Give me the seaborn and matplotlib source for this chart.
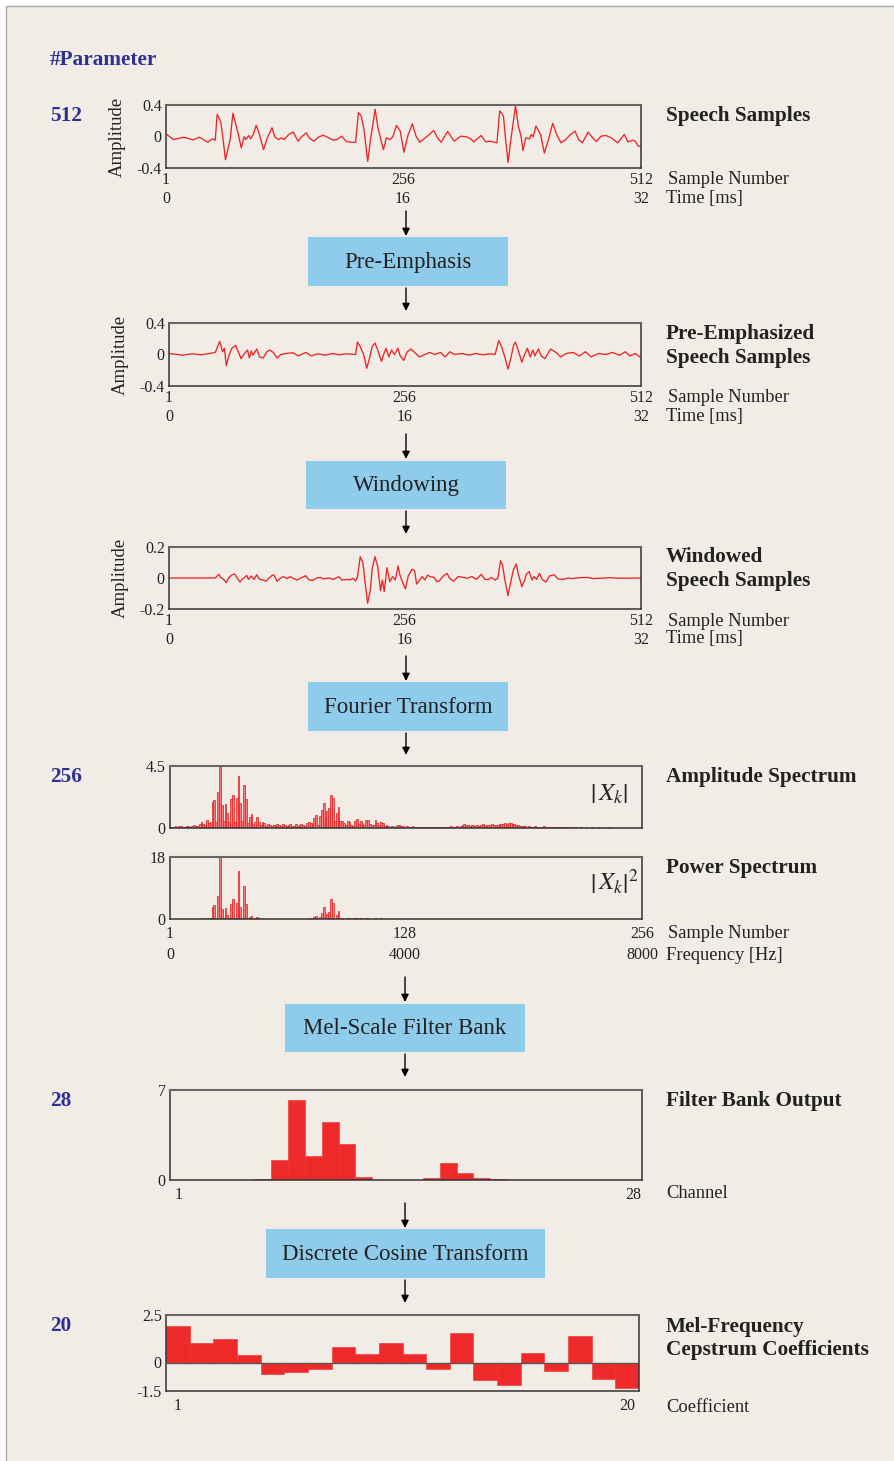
import numpy as np
import pandas as pd
import matplotlib
matplotlib.use("Agg")
import matplotlib.pyplot as plt
from matplotlib.patches import Rectangle, FancyArrowPatch
import seaborn as sns

# ---------------------------------------------------------------- data
# Speech frame (512 samples, 32 ms at 16 kHz)
speech_n = [1, 9, 14, 20, 25, 30, 37, 46, 51, 54, 56, 58, 60, 62, 65, 70, 73, 78, 82, 85,
            87, 90, 92, 95, 98, 101, 106, 110, 115, 118, 122, 125, 128, 133, 138, 143, 147, 152, 155, 160,
            165, 170, 176, 181, 185, 190, 195, 201, 205, 208, 211, 214, 218, 221, 226, 229, 233, 235, 238, 242,
            245, 249, 253, 257, 261, 266, 270, 274, 279, 283, 289, 293, 297, 304, 311, 318, 324, 329, 332, 340,
            345, 350, 357, 360, 362, 364, 366, 369, 372, 377, 380, 383, 385, 388, 392, 394, 396, 399, 404, 408,
            413, 417, 422, 426, 431, 435, 441, 445, 449, 455, 460, 464, 469, 474, 480, 487, 494, 498, 503, 506,
            509, 512]
speech_amp = [0.034, -0.039, -0.026, -0.009, -0.026, -0.043, -0.009, -0.073, -0.030, -0.047,
              0.280, 0.240, 0.175, 0.004, -0.295, -0.039, 0.295, 0.068, -0.146, -0.004,
              -0.039, 0.013, -0.030, 0.026, 0.141, 0.047, -0.167, -0.017, 0.111, -0.004,
              -0.039, -0.017, -0.039, 0.026, 0.056, -0.060, -0.004, 0.047, -0.017, -0.060,
              -0.009, 0.017, -0.017, -0.047, -0.039, 0.004, -0.064, -0.073, -0.073, 0.304,
              0.260, 0.090, -0.317, -0.039, 0.347, 0.111, -0.081, -0.167, -0.017, -0.039,
              -0.004, 0.141, 0.068, -0.200, 0.004, 0.163, 0.004, -0.073, -0.026, 0.013,
              0.077, -0.017, -0.073, 0.064, -0.060, 0.004, -0.004, -0.030, -0.068, 0.013,
              -0.068, -0.060, -0.081, 0.325, 0.295, 0.260, 0.004, -0.330, -0.039, 0.390,
              0.133, 0.004, -0.180, -0.017, -0.030, 0.026, -0.004, 0.133, 0.026, -0.210,
              -0.017, 0.167, 0.004, -0.081, -0.039, 0.013, 0.068, -0.039, -0.081, 0.056,
              -0.017, -0.064, 0.004, 0.013, -0.017, -0.081, 0.026, -0.068, -0.047, -0.060,
              -0.124, -0.120]

# Pre-emphasized frame
pre_n = [1, 16, 26, 36, 43, 51, 56, 59, 61, 63, 66, 69, 73, 76, 79, 82, 86, 88, 90, 92,
         96, 99, 103, 107, 110, 114, 118, 122, 128, 135, 141, 149, 155, 162, 170, 178, 185, 193, 203, 205,
         208, 212, 215, 218, 221, 224, 227, 231, 233, 236, 239, 242, 245, 249, 251, 255, 259, 263, 267, 272,
         278, 283, 289, 295, 300, 305, 310, 318, 326, 333, 341, 349, 354, 358, 361, 364, 368, 371, 374, 376,
         379, 383, 386, 389, 392, 395, 397, 401, 404, 408, 414, 420, 425, 431, 439, 445, 452, 458, 466, 474,
         481, 489, 495, 500, 506, 512]
pre_amp = [0.013, -0.009, 0.009, -0.004, 0.009, 0.026, 0.167, 0.035, 0.079, -0.141,
           -0.009, 0.079, 0.114, 0.035, -0.053, 0.000, 0.057, -0.044, 0.044, -0.009,
           0.070, -0.031, -0.044, 0.035, 0.057, 0.026, -0.044, 0.000, 0.013, 0.022,
           -0.018, 0.026, -0.018, 0.009, -0.009, 0.013, -0.004, 0.009, 0.000, 0.158,
           0.101, -0.009, -0.176, -0.053, 0.101, 0.145, 0.057, -0.088, -0.009, 0.079,
           -0.031, 0.057, 0.000, 0.079, -0.009, -0.075, 0.035, 0.070, 0.026, -0.031,
           0.000, 0.026, 0.000, 0.026, -0.031, 0.035, 0.000, 0.013, -0.009, 0.013,
           -0.004, 0.009, 0.000, 0.176, 0.101, -0.009, -0.185, -0.053, 0.114, 0.158,
           0.057, -0.097, 0.000, 0.079, -0.031, 0.057, -0.018, 0.070, -0.018, -0.053,
           0.070, 0.026, -0.031, 0.013, 0.026, -0.018, 0.035, -0.031, 0.013, 0.000,
           0.026, -0.009, 0.035, -0.018, 0.013, -0.044]

# Hamming-windowed frame
win_n = [1, 51, 55, 57, 60, 63, 66, 69, 72, 75, 78, 80, 83, 85, 87, 90, 93, 96, 99, 103,
         106, 109, 113, 115, 118, 122, 125, 129, 132, 136, 140, 143, 149, 152, 156, 161, 165, 168, 174, 179,
         185, 188, 194, 197, 200, 203, 205, 208, 211, 213, 216, 219, 221, 224, 227, 230, 232, 234, 237, 240,
         243, 246, 249, 251, 254, 257, 260, 264, 267, 269, 272, 275, 278, 281, 284, 288, 291, 294, 298, 302,
         305, 309, 314, 320, 323, 329, 334, 339, 343, 347, 350, 354, 357, 360, 362, 365, 368, 371, 374, 377,
         379, 383, 386, 388, 391, 394, 396, 399, 402, 405, 409, 413, 418, 422, 428, 433, 438, 445, 454, 460,
         467, 478, 489, 512]
win_amp = [0.000, 0.000, 0.024, 0.004, -0.009, -0.030, 0.004, 0.019, 0.026, -0.002,
           -0.026, -0.009, 0.004, 0.017, -0.009, 0.013, -0.009, 0.021, -0.009, -0.013,
           -0.021, -0.002, 0.019, 0.017, -0.021, 0.000, 0.009, -0.004, 0.009, -0.004,
           -0.013, -0.002, 0.015, -0.009, -0.017, 0.000, 0.004, -0.006, 0.000, -0.009,
           0.009, -0.013, -0.009, -0.013, -0.002, -0.019, 0.004, 0.138, 0.095, -0.013,
           -0.163, -0.077, 0.062, 0.138, 0.073, -0.082, -0.013, -0.088, 0.067, -0.024,
           0.009, -0.013, 0.077, 0.019, -0.030, -0.071, 0.013, 0.056, 0.047, -0.039,
           -0.017, 0.009, -0.013, 0.019, 0.009, 0.004, -0.024, -0.017, 0.013, 0.030,
           -0.002, -0.021, 0.009, 0.004, -0.002, 0.009, -0.009, 0.024, -0.009, -0.009,
           0.004, -0.013, -0.002, 0.112, 0.084, -0.024, -0.114, -0.024, 0.056, 0.090,
           0.030, -0.056, -0.013, 0.026, 0.041, -0.013, 0.009, -0.009, 0.030, -0.009,
           -0.026, 0.013, 0.021, -0.006, -0.009, 0.000, -0.004, 0.002, 0.004, -0.004,
           -0.002, 0.002, -0.002, 0.000]

# Magnitude spectrum |X_k|, k = 1..256
spec_k = list(range(1, 257))
spec_mag = [0.10, 0.05, 0.10, 0.12, 0.08, 0.15, 0.18, 0.10, 0.08, 0.15, 0.12, 0.08, 0.12, 0.20, 0.15, 0.12,
            0.30, 0.45, 0.30, 0.20, 0.55, 0.35, 0.40, 1.90, 2.05, 0.45, 2.60, 4.45, 1.70, 0.50, 1.75, 1.10,
            0.40, 2.10, 2.40, 0.45, 2.15, 3.75, 1.85, 0.50, 3.10, 2.10, 0.35, 0.80, 1.00, 0.30, 0.40, 0.80,
            0.40, 0.25, 0.45, 0.35, 0.15, 0.30, 0.20, 0.12, 0.20, 0.15, 0.30, 0.25, 0.12, 0.30, 0.25, 0.15,
            0.20, 0.30, 0.18, 0.12, 0.30, 0.15, 0.20, 0.30, 0.25, 0.15, 0.35, 0.45, 0.35, 0.30, 0.70, 0.95,
            0.20, 0.85, 1.30, 1.85, 0.80, 1.20, 1.45, 2.40, 2.15, 0.50, 1.10, 1.55, 0.50, 0.50, 0.35, 0.20,
            0.50, 0.40, 0.20, 0.15, 0.50, 0.65, 0.30, 0.50, 0.35, 0.20, 0.55, 0.55, 0.30, 0.20, 0.25, 0.60,
            0.35, 0.20, 0.45, 0.35, 0.15, 0.20, 0.15, 0.10, 0.15, 0.10, 0.18, 0.25, 0.20, 0.12, 0.15, 0.10,
            0.12, 0.08, 0.10, 0.12, 0.08, 0.05, 0.06, 0.05, 0.04, 0.06, 0.05, 0.04, 0.05, 0.06, 0.04, 0.05,
            0.05, 0.04, 0.06, 0.05, 0.04, 0.05, 0.06, 0.10, 0.12, 0.08, 0.10, 0.12, 0.10, 0.15, 0.20, 0.30,
            0.25, 0.20, 0.15, 0.25, 0.20, 0.18, 0.22, 0.15, 0.25, 0.30, 0.22, 0.18, 0.25, 0.20, 0.28, 0.22,
            0.20, 0.25, 0.30, 0.28, 0.32, 0.35, 0.30, 0.36, 0.34, 0.30, 0.28, 0.22, 0.20, 0.18, 0.15, 0.12,
            0.15, 0.10, 0.12, 0.08, 0.10, 0.12, 0.08, 0.10, 0.10, 0.08, 0.12, 0.08, 0.10, 0.06, 0.08, 0.10,
            0.06, 0.08, 0.05, 0.06, 0.05, 0.04, 0.05, 0.04, 0.03, 0.04, 0.03, 0.04, 0.03, 0.03, 0.04, 0.03,
            0.03, 0.04, 0.03, 0.03, 0.04, 0.03, 0.03, 0.03, 0.04, 0.03, 0.03, 0.03, 0.03, 0.04, 0.03, 0.03,
            0.03, 0.03, 0.03, 0.03, 0.02, 0.03, 0.03, 0.03, 0.02, 0.03, 0.03, 0.02, 0.03, 0.03, 0.02, 0.03]
spec_pow = [m ** 2 for m in spec_mag]

# Mel filter bank energies, 28 channels
mel_ch = list(range(1, 29))
mel_out = [0.0, 0.0, 0.0, 0.0, 0.03, 0.08, 1.56, 6.22, 1.87, 4.51, 2.83, 0.23, 0.01, 0.01,
           0.02, 0.16, 1.35, 0.54, 0.16, 0.08, 0.01, 0.01, 0.01, 0.01, 0.02, 0.01, 0.01, 0.01]

# MFCCs, 20 coefficients
mfcc_i = list(range(1, 21))
mfcc = [1.94, 1.02, 1.23, 0.41, -0.61, -0.49, -0.34, 0.82, 0.46, 1.02,
        0.46, -0.34, 1.53, -0.92, -1.16, 0.51, -0.44, 1.38, -0.85, -1.36]

# ---------------------------------------------------------------- style
sns.set_style("white")
plt.rcParams["font.family"] = ["Liberation Serif", "DejaVu Serif"]
plt.rcParams["mathtext.fontset"] = "stix"

W, H = 894, 1461
BG = "#f1ede6"
RED = "#ee2424"
BAR_RED = "#ee2a2a"
NAVY = "#2e3192"
BOXBLUE = "#8fcbea"
TXT = "#222222"
TICK_FS = 11.5
DESC_FS = 13.3
BOLD_FS = 15.3

fig = plt.figure(figsize=(W / 100, H / 100), dpi=100, facecolor="white")

# page panel with a thin border
fig.add_artist(Rectangle((6 / W, -0.02), 1.1, 1 - 6 / H + 0.02, transform=fig.transFigure,
                         facecolor=BG, edgecolor="#a8a8a8", lw=1.0, zorder=-10))


def fx(x):
    return x / W


def fy(y):
    return 1 - y / H


def add_panel(x0, y0, x1, y1):
    ax = fig.add_axes([fx(x0), fy(y1), (x1 - x0) / W, (y1 - y0) / H])
    ax.set_facecolor("none")
    for s in ax.spines.values():
        s.set_color("#333333")
        s.set_linewidth(1.1)
    ax.spines["top"].set_color("#666666")
    ax.spines["top"].set_linewidth(1.5)
    ax.tick_params(axis="both", direction="in", length=3, width=0.8, colors="#333333",
                   labelsize=TICK_FS, labelcolor=TXT, pad=3)
    ax.tick_params(axis="x", pad=3)
    ax.set_xlabel("")
    ax.set_ylabel("")
    return ax


def second_row(ax, xs, labels, offset_px):
    for x, lab in zip(xs, labels):
        ax.annotate(lab, xy=(x, 0), xycoords=("data", "axes fraction"),
                    xytext=(0, -offset_px * 0.72), textcoords="offset points",
                    ha="center", va="center", fontsize=TICK_FS, color=TXT)


def ftext(x, y, s, **kw):
    kw.setdefault("color", TXT)
    kw.setdefault("va", "center")
    kw.setdefault("ha", "left")
    fig.text(fx(x), fy(y), s, **kw)


def block(x0, y0, x1, y1, label):
    fig.add_artist(Rectangle((fx(x0), fy(y1)), (x1 - x0) / W, (y1 - y0) / H,
                             transform=fig.transFigure, facecolor=BOXBLUE, edgecolor="none"))
    ftext((x0 + x1) / 2, (y0 + y1) / 2 + 1, label, ha="center", fontsize=16.5)


def arrow(x, y0, y1):
    fig.add_artist(FancyArrowPatch((fx(x), fy(y0)), (fx(x), fy(y1)), transform=fig.transFigure,
                                   arrowstyle="-|>", mutation_scale=11, lw=1.0, color="black",
                                   shrinkA=0, shrinkB=0))


def waveform(x0, y0, x1, y1, n, amp, lim):
    ax = add_panel(x0, y0, x1, y1)
    df = pd.DataFrame({"n": n, "amp": amp})
    sns.lineplot(data=df, x="n", y="amp", ax=ax, color=RED, lw=0.95, estimator=None, sort=True,
                 solid_joinstyle="round")
    ax.set_xlim(1, 512)
    ax.set_ylim(-lim, lim)
    ax.set_xticks([1, 256, 512])
    ax.set_xticklabels(["1", "256", "512"])
    ax.set_yticks([-lim, 0, lim])
    ax.set_yticklabels([f"-{lim:g}", "0", f"{lim:g}"])
    ax.set_xlabel("")
    ax.set_ylabel("")
    second_row(ax, [1, 256, 512], ["0", "16", "32"], 31)
    ftext(x0 - 49, (y0 + y1) / 2, "Amplitude", rotation=90, ha="center", fontsize=13.5)
    ftext(668, y1 + 12, "Sample Number", fontsize=DESC_FS)
    ftext(666, y1 + 30, "Time [ms]", fontsize=DESC_FS)
    return ax


# ---------------------------------------------------------------- header
ftext(50, 60, "#Parameter", color=NAVY, fontsize=BOLD_FS, fontweight="bold")
for y, s in [(116, "512"), (777, "256"), (1101, "28"), (1326, "20")]:
    ftext(50, y, s, color=NAVY, fontsize=BOLD_FS, fontweight="bold")

# ---------------------------------------------------------------- waveforms
waveform(166, 105, 641, 168, speech_n, speech_amp, 0.4)
ftext(666, 116, "Speech Samples", fontsize=BOLD_FS, fontweight="bold")

waveform(169, 323, 641, 386, pre_n, pre_amp, 0.4)
ftext(666, 334, "Pre-Emphasized", fontsize=BOLD_FS, fontweight="bold")
ftext(666, 358, "Speech Samples", fontsize=BOLD_FS, fontweight="bold")

waveform(169, 547, 641, 609, win_n, win_amp, 0.2)
ftext(666, 557, "Windowed", fontsize=BOLD_FS, fontweight="bold")
ftext(666, 581, "Speech Samples", fontsize=BOLD_FS, fontweight="bold")

# ---------------------------------------------------------------- spectra
ax4 = add_panel(170, 766, 642, 828)
sns.barplot(x=spec_k, y=spec_mag, ax=ax4, native_scale=True, width=1, color="#f37c7c",
            edgecolor="#e42626", linewidth=0.55, saturation=1, errorbar=None)
ax4.set_xlim(1, 256)
ax4.set_ylim(0, 4.5)
ax4.set_yticks([0, 4.5])
ax4.set_yticklabels(["0", "4.5"])
ax4.set_xticks([1, 128, 256])
ax4.tick_params(axis="x", labelbottom=False)
ax4.text(0.97, 0.55, r"$\left|\,X_k\right|$", transform=ax4.transAxes, ha="right", va="center",
         fontsize=18, color=TXT)
ftext(666, 777, "Amplitude Spectrum", fontsize=BOLD_FS, fontweight="bold")

ax5 = add_panel(170, 857, 642, 919)
sns.barplot(x=spec_k, y=spec_pow, ax=ax5, native_scale=True, width=1, color="#f37c7c",
            edgecolor="#e42626", linewidth=0.55, saturation=1, errorbar=None)
ax5.set_xlim(1, 256)
ax5.set_ylim(0, 18)
ax5.set_yticks([0, 18])
ax5.set_yticklabels(["0", "18"])
ax5.set_xticks([1, 128, 256])
ax5.set_xticklabels(["1", "128", "256"])
ax5.tick_params(axis="x", pad=5)
ax5.text(0.993, 0.6, r"$\left|\,X_k\right|^2$", transform=ax5.transAxes, ha="right", va="center",
         fontsize=18, color=TXT)
second_row(ax5, [1, 128, 256], ["0", "4000", "8000"], 36)
ftext(666, 868, "Power Spectrum", fontsize=BOLD_FS, fontweight="bold")
ftext(668, 933, "Sample Number", fontsize=DESC_FS)
ftext(666, 955, "Frequency [Hz]", fontsize=DESC_FS)

# ---------------------------------------------------------------- filter bank
ax6 = add_panel(170, 1090, 642, 1180)
sns.barplot(x=mel_ch, y=mel_out, ax=ax6, native_scale=True, width=1, color=BAR_RED,
            edgecolor=BAR_RED, linewidth=0.4, saturation=1, errorbar=None)
ax6.set_xlim(0.5, 28.5)
ax6.set_ylim(0, 7)
ax6.set_yticks([0, 7])
ax6.set_yticklabels(["0", "7"])
ax6.set_xticks([1, 28])
ax6.set_xticklabels(["1", "28"])
ax6.tick_params(axis="x", length=0, pad=5)
ftext(666, 1101, "Filter Bank Output", fontsize=BOLD_FS, fontweight="bold")
ftext(666, 1193, "Channel", fontsize=DESC_FS)

# ---------------------------------------------------------------- MFCC
ax7 = add_panel(166, 1315, 639, 1391)
sns.barplot(x=mfcc_i, y=mfcc, ax=ax7, native_scale=True, width=1, color=BAR_RED,
            edgecolor=BAR_RED, linewidth=0.4, saturation=1, errorbar=None)
ax7.axhline(0, color="#555555", lw=1.0, zorder=3)
ax7.set_xlim(0.5, 20.5)
ax7.set_ylim(-1.5, 2.5)
ax7.set_yticks([-1.5, 0, 2.5])
ax7.set_yticklabels(["-1.5", "0", "2.5"])
ax7.set_xticks([1, 20])
ax7.set_xticklabels(["1", "20"])
ax7.tick_params(axis="x", length=0, pad=5)
ftext(666, 1327, "Mel-Frequency", fontsize=BOLD_FS, fontweight="bold")
ftext(666, 1350, "Cepstrum Coefficients", fontsize=BOLD_FS, fontweight="bold")
ftext(666, 1407, "Coefficient", fontsize=DESC_FS)

for ax in fig.axes:
    ax.set_xlabel("")
    ax.set_ylabel("")

# ---------------------------------------------------------------- processing blocks
block(308, 237, 508, 286, "Pre-Emphasis")
block(306, 461, 506, 509, "Windowing")
block(308, 682, 508, 731, "Fourier Transform")
block(285, 1004, 525, 1052, "Mel-Scale Filter Bank")
block(266, 1229, 545, 1278, "Discrete Cosine Transform")

arrow(406, 211, 236)
arrow(406, 288, 311)
arrow(406, 434, 459)
arrow(406, 511, 534)
arrow(406, 656, 681)
arrow(406, 733, 755)
arrow(405, 977, 1002)
arrow(405, 1054, 1077)
arrow(405, 1203, 1228)
arrow(405, 1280, 1303)

fig.savefig("out.png", dpi=100, facecolor="white")
